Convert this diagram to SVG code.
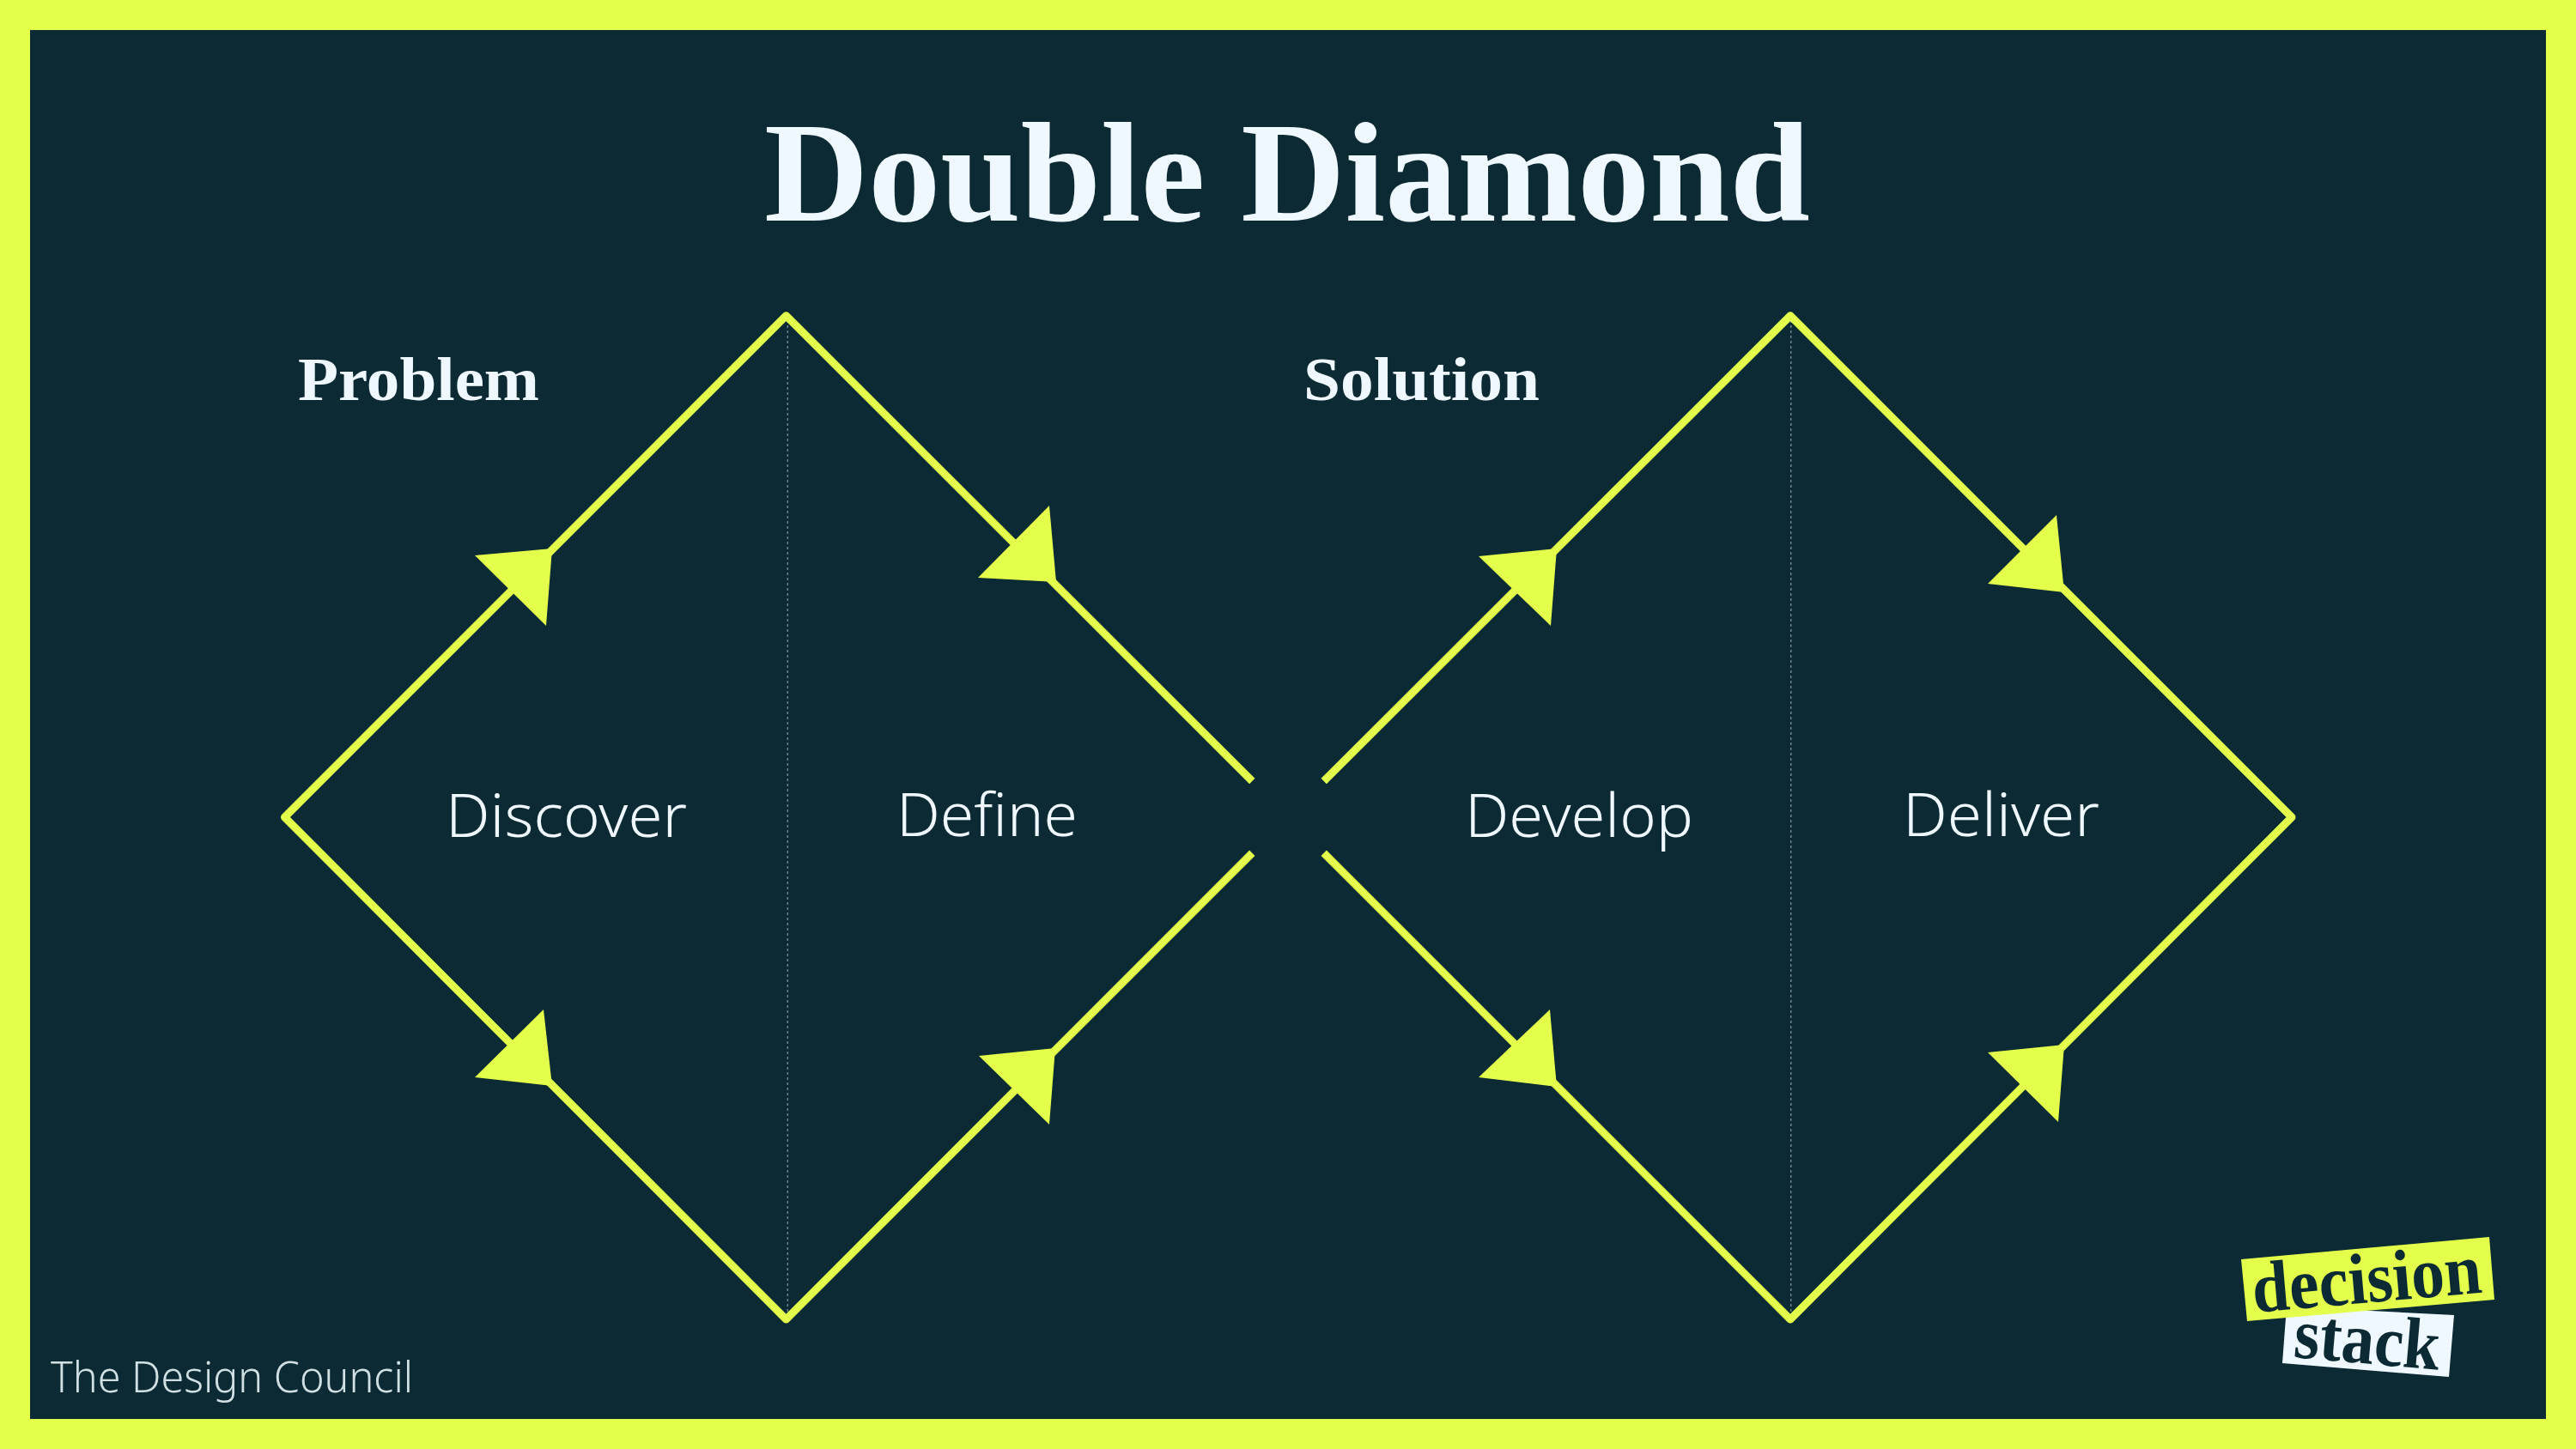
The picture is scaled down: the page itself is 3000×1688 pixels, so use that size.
<svg xmlns="http://www.w3.org/2000/svg" width="3000" height="1688" viewBox="0 0 3000 1688">
<style>
.edge{fill:none;stroke:#e3ff4c;stroke-width:9;stroke-linejoin:round;stroke-linecap:butt}
.head{fill:#e3ff4c}
.guide{fill:none;stroke:#6f858c;stroke-width:1.5;stroke-dasharray:3 3}
.serif{font-family:"Liberation Serif","DejaVu Serif",serif;font-weight:700;fill:#f0f8ff}
.sans{font-family:"Noto Sans","Open Sans",sans-serif;font-weight:300;fill:#f0f8ff;font-size:70px}
.logo{font-family:"Liberation Serif","DejaVu Serif",serif;font-weight:700;fill:#0b2a34}
</style>
<rect id="frame" width="3000" height="1688" fill="#e3ff4c"/>
<rect id="panel" x="35" y="35" width="2930" height="1618" fill="#0b2a34"/>
<text id="title" class="serif" x="890" y="257" font-size="166" textLength="1218" lengthAdjust="spacingAndGlyphs">Double Diamond</text>
<g id="connectors">
<path class="guide" d="M917.3 373V1532M2085.7 373V1532"/>
<path class="edge" d="M1458.3 993.7L915.5 1537L331.5 952L915.5 367.8L1458.3 910"/>
<path class="edge" d="M1541.7 910L2085 367.8L2669 952L2085 1537L1541.7 993.7"/>
<polygon class="head" points="643,639 636,729 553,647"/>
<polygon class="head" points="1222,589 1230,678 1139,673"/>
<polygon class="head" points="633,1176 643,1265 553,1255"/>
<polygon class="head" points="1229,1221 1222,1310 1140,1230"/>
<polygon class="head" points="1813,639 1806,729 1722,648"/>
<polygon class="head" points="2395,600 2404,690 2315,680"/>
<polygon class="head" points="1805,1176 1813,1266 1722,1255"/>
<polygon class="head" points="2404,1217 2397,1307 2315,1226"/>
</g>
<g id="node-problem"><text class="serif" x="347" y="466" font-size="72" textLength="281" lengthAdjust="spacingAndGlyphs">Problem</text></g>
<g id="node-solution"><text class="serif" x="1518" y="466" font-size="72" textLength="275" lengthAdjust="spacingAndGlyphs">Solution</text></g>
<g id="node-discover"><text class="sans" x="519" y="975" textLength="281" lengthAdjust="spacingAndGlyphs">Discover</text></g>
<g id="node-define"><text class="sans" x="1044" y="974" textLength="211" lengthAdjust="spacingAndGlyphs">Define</text></g>
<g id="node-develop"><text class="sans" x="1706" y="975" textLength="266" lengthAdjust="spacingAndGlyphs">Develop</text></g>
<g id="node-deliver"><text class="sans" x="2216" y="974" textLength="229" lengthAdjust="spacingAndGlyphs">Deliver</text></g>
<text id="credit" x="59" y="1622" font-family="'Noto Sans','Open Sans',sans-serif" font-weight="300" font-size="50" fill="#cfdfe2" textLength="422" lengthAdjust="spacingAndGlyphs">The Design Council</text>
<g id="logo">
<polygon points="2663,1522 2858,1532 2852,1604 2658,1588" fill="#f0f8ff"/>
<polygon points="2610,1467 2899,1441 2905,1514 2617,1539" fill="#e3ff4c"/>
<text class="logo" font-size="84" textLength="268" lengthAdjust="spacingAndGlyphs" transform="translate(2625,1529) rotate(-5)">decision</text>
<text class="logo" font-size="84" textLength="170" lengthAdjust="spacingAndGlyphs" transform="translate(2670,1581) rotate(5)">stack</text>
</g>
</svg>
